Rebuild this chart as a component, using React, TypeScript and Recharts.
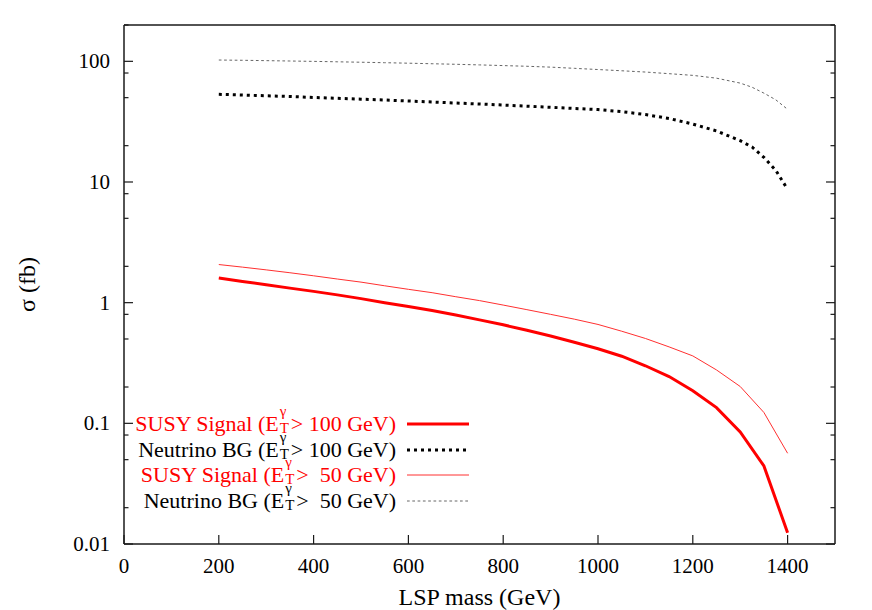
import { ComposedChart, Line, XAxis, YAxis } from "recharts"

const signalMass = [
  200, 250, 300, 350, 400, 450, 500, 550, 600, 650, 700, 750, 800, 850, 900,
  950, 1000, 1050, 1100, 1150, 1200, 1250, 1300, 1350, 1400,
]
const susy100 = [
  1.6, 1.5, 1.41, 1.32, 1.24, 1.16, 1.08, 1.0, 0.93, 0.86, 0.79, 0.72, 0.655,
  0.59, 0.53, 0.47, 0.415, 0.36, 0.3, 0.244, 0.186, 0.135, 0.085, 0.0444, 0.0124,
]
const susy50 = [
  2.07, 1.97, 1.87, 1.77, 1.67, 1.57, 1.48, 1.38, 1.29, 1.21, 1.12, 1.04, 0.955,
  0.875, 0.8, 0.73, 0.66, 0.58, 0.505, 0.43, 0.362, 0.277, 0.202, 0.123, 0.0565,
]

const bgMass = [
  200, 250, 300, 350, 400, 450, 500, 550, 600, 650, 700, 750, 800, 850, 900,
  950, 1000, 1050, 1100, 1150, 1200, 1250, 1300, 1325, 1350, 1375, 1400,
]
const nu100 = [
  53.3, 52.6, 51.8, 51.1, 50.2, 49.4, 48.6, 47.8, 46.9, 46.0, 45.1, 44.3, 43.4,
  42.5, 41.6, 40.7, 39.8, 38.3, 36.2, 33.6, 30.2, 26.5, 22.0, 19.5, 16.0, 12.5, 8.7,
]
const nu50 = [
  102.5, 102.0, 101.3, 100.6, 99.9, 99.1, 98.3, 97.4, 96.5, 95.5, 94.5, 93.4,
  92.2, 91.0, 89.5, 87.5, 85.5, 83.5, 81.5, 79.0, 76.5, 72.5, 66.0, 61.0, 54.5,
  48.0, 40.0,
]

const xTicks = [0, 200, 400, 600, 800, 1000, 1200, 1400]
const yTicks = [
  0.01, 0.02, 0.05, 0.08, 0.1, 0.2, 0.5, 0.8, 1, 2, 5, 8, 10, 20, 50, 80, 100, 200,
]
const yMajor = [0.01, 0.1, 1, 10, 100]

const legendRows = [
  { name: "SUSY Signal", cut: "> 100 GeV)", color: "#ff0000" },
  { name: "Neutrino BG", cut: "> 100 GeV)", color: "#000000" },
  { name: "SUSY Signal", cut: ">\u00a0 50 GeV)", color: "#ff0000" },
  { name: "Neutrino BG", cut: ">\u00a0 50 GeV)", color: "#000000" },
]

const FONT = "'Liberation Serif', 'Times New Roman', serif"
const AXIS = "#1a1a1a"

const signalData = signalMass.map((m, i) => ({ mass: m, s100: susy100[i], s50: susy50[i] }))
const bgData = bgMass.map((m, i) => ({ mass: m, n100: nu100[i], n50: nu50[i] }))

const lineStyles = [
  { stroke: "#ff0000", strokeWidth: 3, dash: undefined },
  { stroke: "#000000", strokeWidth: 3, dash: "3 4" },
  { stroke: "#ff3030", strokeWidth: 1, dash: undefined },
  { stroke: "#666666", strokeWidth: 1, dash: "2.7 2.6" },
]

// ticks point inward, labels only on bottom/left
const XTick = ({ x, y, payload, side }: any) => {
  const dir = side === "top" ? 1 : -1
  return (
    <g>
      <line x1={x} x2={x} y1={y} y2={y + dir * 9} stroke={AXIS} strokeWidth={1.2} />
      {side !== "top" && (
        <text x={x} y={y + 29} textAnchor="middle" fontFamily={FONT} fontSize={21} fill="#000">
          {payload.value}
        </text>
      )}
    </g>
  )
}

const YTick = ({ x, y, payload, side }: any) => {
  const major = yMajor.includes(payload.value)
  const len = major ? 9 : 4.5
  const dir = side === "right" ? -1 : 1
  return (
    <g>
      <line x1={x} x2={x + dir * len} y1={y} y2={y} stroke={AXIS} strokeWidth={1.2} />
      {side !== "right" && major && (
        <text
          x={x - 14}
          y={y}
          textAnchor="end"
          dominantBaseline="central"
          fontFamily={FONT}
          fontSize={21}
          fill="#000"
        >
          {String(payload.value)}
        </text>
      )}
    </g>
  )
}

const Legend = () => (
  <>
    {legendRows.map((row, i) => {
      const cy = 424 + i * 25.6
      const st = lineStyles[i]
      return (
        <div key={i}>
          <div
            style={{
              position: "absolute",
              right: 872 - 396,
              top: cy - 13,
              height: 26,
              lineHeight: "26px",
              whiteSpace: "nowrap",
              fontFamily: FONT,
              fontSize: 22,
              color: row.color,
            }}
          >
            {row.name} (E
            <span style={{ position: "relative", display: "inline-block", width: 12, height: 10 }}>
              <span style={{ position: "absolute", left: 1, top: -17, fontSize: 15, lineHeight: "15px" }}>
                γ
              </span>
              <span style={{ position: "absolute", left: 1, top: 0, fontSize: 15, lineHeight: "15px" }}>
                T
              </span>
            </span>
            {row.cut}
          </div>
          <svg
            style={{ position: "absolute", left: 407, top: cy - 5 }}
            width={62}
            height={10}
          >
            <line
              x1={0}
              x2={62}
              y1={5}
              y2={5}
              stroke={st.stroke}
              strokeWidth={st.strokeWidth}
              strokeDasharray={st.dash}
            />
          </svg>
        </div>
      )
    })}
  </>
)

export default function App() {
  return (
    <div
      style={{
        position: "absolute",
        left: 0,
        top: 0,
        width: 872,
        height: 610,
        background: "#fff",
      }}
    >
      <ComposedChart
        width={872}
        height={610}
        margin={{ top: 24, right: 36, bottom: 65, left: 123 }}
      >
        <XAxis
          xAxisId="bottom"
          dataKey="mass"
          type="number"
          domain={[0, 1500]}
          ticks={xTicks}
          interval={0}
          height={1}
          tickSize={0}
          tickMargin={0}
          tickLine={false}
          axisLine={{ stroke: AXIS, strokeWidth: 1.5 }}
          tick={<XTick side="bottom" />}
          allowDataOverflow
          label={{
            content: ({ viewBox }: any) => (
              <text
                x={viewBox.x + viewBox.width / 2}
                y={viewBox.y + 61}
                textAnchor="middle"
                fontFamily={FONT}
                fontSize={24}
                fill="#000"
              >
                LSP mass (GeV)
              </text>
            ),
          }}
        />
        <XAxis
          xAxisId="top"
          orientation="top"
          type="number"
          domain={[0, 1500]}
          ticks={xTicks}
          interval={0}
          height={1}
          tickSize={0}
          tickMargin={0}
          tickLine={false}
          axisLine={{ stroke: AXIS, strokeWidth: 1.5 }}
          tick={<XTick side="top" />}
          allowDataOverflow
        />
        <YAxis
          yAxisId="left"
          type="number"
          scale="log"
          domain={[0.01, 200]}
          ticks={yTicks}
          interval={0}
          width={1}
          tickSize={0}
          tickMargin={0}
          tickLine={false}
          axisLine={{ stroke: AXIS, strokeWidth: 1.5 }}
          tick={<YTick side="left" />}
          allowDataOverflow
          label={{
            content: ({ viewBox }: any) => (
              <text
                x={35}
                y={viewBox.y + viewBox.height / 2}
                textAnchor="middle"
                transform={`rotate(-90 35 ${viewBox.y + viewBox.height / 2})`}
                fontFamily={FONT}
                fontSize={24}
                fill="#000"
              >
                σ (fb)
              </text>
            ),
          }}
        />
        <YAxis
          yAxisId="right"
          orientation="right"
          type="number"
          scale="log"
          domain={[0.01, 200]}
          ticks={yTicks}
          interval={0}
          width={1}
          tickSize={0}
          tickMargin={0}
          tickLine={false}
          axisLine={{ stroke: AXIS, strokeWidth: 1.5 }}
          tick={<YTick side="right" />}
          allowDataOverflow
        />
        <Line
          data={bgData}
          xAxisId="bottom"
          yAxisId="left"
          dataKey="n50"
          type="linear"
          stroke={lineStyles[3].stroke}
          strokeWidth={lineStyles[3].strokeWidth}
          strokeDasharray={lineStyles[3].dash}
          dot={false}
          activeDot={false}
          isAnimationActive={false}
        />
        <Line
          data={bgData}
          xAxisId="bottom"
          yAxisId="left"
          dataKey="n100"
          type="linear"
          stroke={lineStyles[1].stroke}
          strokeWidth={lineStyles[1].strokeWidth}
          strokeDasharray={lineStyles[1].dash}
          dot={false}
          activeDot={false}
          isAnimationActive={false}
        />
        <Line
          data={signalData}
          xAxisId="bottom"
          yAxisId="left"
          dataKey="s50"
          type="linear"
          stroke={lineStyles[2].stroke}
          strokeWidth={lineStyles[2].strokeWidth}
          dot={false}
          activeDot={false}
          isAnimationActive={false}
        />
        <Line
          data={signalData}
          xAxisId="bottom"
          yAxisId="left"
          dataKey="s100"
          type="linear"
          stroke={lineStyles[0].stroke}
          strokeWidth={lineStyles[0].strokeWidth}
          dot={false}
          activeDot={false}
          isAnimationActive={false}
        />
      </ComposedChart>
      <Legend />
    </div>
  )
}
